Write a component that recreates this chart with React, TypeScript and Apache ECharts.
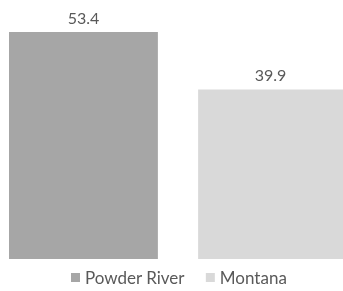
import React, { useEffect, useRef } from "react";
import * as echarts from "echarts";

const categories = ["Median age"];
const seriesNames = ["Powder River", "Montana"];
const powderRiver = [53.4];
const montana = [39.9];
const colors = ["#a6a6a6", "#d9d9d9"];

export default function App() {
  const ref = useRef<HTMLDivElement>(null);
  useEffect(() => {
    const chart = echarts.init(ref.current!, undefined, { renderer: "svg" });
    const font = "Lato, 'Noto Sans', sans-serif";
    const label = {
      show: true,
      position: "top" as const,
      distance: 7,
      color: "#595959",
      fontSize: 16,
      fontFamily: font,
      formatter: (p: any) => p.value.toFixed(1),
    };
    chart.setOption({
      animation: false,
      grid: { left: 9, right: 0, top: 32, bottom: 32, containLabel: false },
      legend: {
        data: seriesNames,
        left: 66,
        top: 264,
        icon: "rect",
        itemWidth: 9,
        itemHeight: 9,
        itemGap: 21,
        textStyle: { color: "#595959", fontSize: 17, fontFamily: font },
      },
      xAxis: {
        type: "category",
        data: categories,
        show: false,
      },
      yAxis: { type: "value", min: 0, max: 53.4, show: false },
      series: [
        {
          name: seriesNames[0],
          type: "bar",
          data: powderRiver,
          itemStyle: { color: colors[0] },
          barWidth: 149,
          barGap: "27%",
          barCategoryGap: 0,
          label,
        },
        {
          name: seriesNames[1],
          type: "bar",
          data: montana,
          itemStyle: { color: colors[1] },
          barWidth: 145,
          barGap: "27%",
          label,
        },
      ],
    });
    return () => chart.dispose();
  }, []);
  return (
    <div
      ref={ref}
      style={{ position: "fixed", left: 0, top: 0, width: 343, height: 291 }}
    />
  );
}
